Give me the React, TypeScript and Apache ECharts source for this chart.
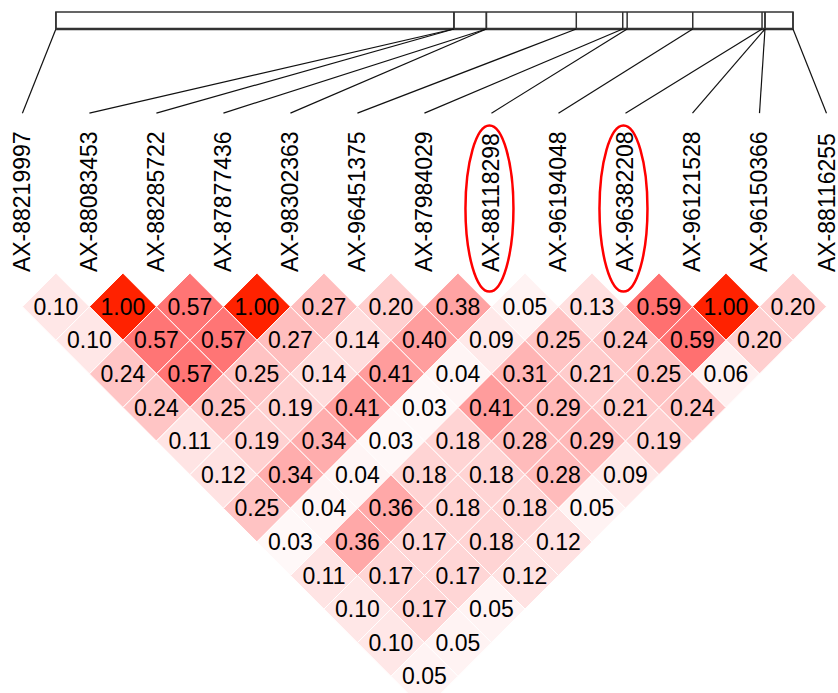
import React, { useEffect, useRef } from "react";
import * as echarts from "echarts";

const snpNames = [
  "AX-88219997", "AX-88083453", "AX-88285722", "AX-87877436", "AX-98302363",
  "AX-96451375", "AX-87984029", "AX-88118298", "AX-96194048", "AX-96382208",
  "AX-96121528", "AX-96150366", "AX-88116255",
];

// relative physical map positions (0 = first SNP, 1 = last SNP)
const mapPositions = [0, 0.54, 0.54, 0.584, 0.584, 0.706, 0.769, 0.775, 0.864, 0.958, 0.962, 0.962, 1.0];

const highlightedSnps = ["AX-88118298", "AX-96382208"];

// LD values, grouped by distance between SNPs (1 = adjacent pairs)
const ldByDistance: number[][] = [
  [0.10, 1.00, 0.57, 1.00, 0.27, 0.20, 0.38, 0.05, 0.13, 0.59, 1.00, 0.20],
  [0.10, 0.57, 0.57, 0.27, 0.14, 0.40, 0.09, 0.25, 0.24, 0.59, 0.20],
  [0.24, 0.57, 0.25, 0.14, 0.41, 0.04, 0.31, 0.21, 0.25, 0.06],
  [0.24, 0.25, 0.19, 0.41, 0.03, 0.41, 0.29, 0.21, 0.24],
  [0.11, 0.19, 0.34, 0.03, 0.18, 0.28, 0.29, 0.19],
  [0.12, 0.34, 0.04, 0.18, 0.18, 0.28, 0.09],
  [0.25, 0.04, 0.36, 0.18, 0.18, 0.05],
  [0.03, 0.36, 0.17, 0.18, 0.12],
  [0.11, 0.17, 0.17, 0.12],
  [0.10, 0.17, 0.05],
  [0.10, 0.05],
  [0.05],
];

const colorStops: [number, number[]][] = [
  [0, [255, 255, 255]],
  [0.6, [255, 110, 110]],
  [1, [255, 34, 0]],
];

function ldColor(v: number): string {
  for (let k = 1; k < colorStops.length; k++) {
    const [v1, c1] = colorStops[k];
    const [v0, c0] = colorStops[k - 1];
    if (v <= v1) {
      const t = (v - v0) / (v1 - v0);
      const c = c0.map((a, idx) => Math.round(a + (c1[idx] - a) * t));
      return `rgb(${c[0]},${c[1]},${c[2]})`;
    }
  }
  return "rgb(255,34,0)";
}

const FONT = '"Liberation Sans", Arial, sans-serif';

export default function App() {
  const ref = useRef<HTMLDivElement>(null);
  useEffect(() => {
    if (!ref.current) return;
    const chart = echarts.init(ref.current, undefined, { renderer: "svg" });
    const n = snpNames.length;
    const cellData: number[][] = [];
    ldByDistance.forEach((row, di) => {
      const d = di + 1;
      row.forEach((v, k) => {
        cellData.push([k + d / 2, d, v]);
      });
    });
    const pMin = Math.min(...mapPositions);
    const pMax = Math.max(...mapPositions);
    const BAR_TOP = -7.77;
    const BAR_BOTTOM = -7.265;
    const LINE_END = -4.76;
    const ELLIPSE_Y = -1.92;

    chart.setOption({
      animation: false,
      grid: { left: 22.4, top: 273.1, width: 806, height: 403.2 },
      xAxis: {
        type: "value",
        min: 0,
        max: n - 1,
        interval: 1,
        position: "top",
        axisLine: { show: false },
        axisTick: { show: false },
        splitLine: { show: false },
        axisLabel: {
          rotate: 90,
          margin: 1,
          fontSize: 23,
          fontFamily: FONT,
          color: "#000",
          formatter: (val: number) => snpNames[Math.round(val)] ?? "",
        },
      },
      yAxis: {
        type: "value",
        min: 0,
        max: n - 1,
        inverse: true,
        show: false,
      },
      series: [
        {
          type: "custom",
          clip: false,
          data: cellData,
          renderItem: (params: any, api: any) => {
            const cx = api.value(0);
            const r = api.value(1);
            const v = api.value(2);
            const pts = [
              api.coord([cx, r - 1]),
              api.coord([cx + 0.5, r]),
              api.coord([cx, r + 1]),
              api.coord([cx - 0.5, r]),
            ];
            const c = api.coord([cx, r]);
            return {
              type: "group",
              children: [
                {
                  type: "polygon",
                  shape: { points: pts },
                  style: { fill: ldColor(v), stroke: "#ffffff", lineWidth: 1 },
                },
                {
                  type: "text",
                  style: {
                    text: v.toFixed(2),
                    x: c[0],
                    y: c[1],
                    align: "center",
                    verticalAlign: "middle",
                    fontSize: 23,
                    fontFamily: FONT,
                    fill: "#000",
                  },
                },
              ],
            };
          },
        },
        {
          type: "custom",
          clip: false,
          data: snpNames.map((name, i) => [i, mapPositions[i]]),
          renderItem: (params: any, api: any) => {
            const i = api.value(0);
            const p = api.value(1);
            const mx = 0.5 + (n - 2) * (p - pMin) / (pMax - pMin);
            const top = api.coord([mx, BAR_TOP]);
            const bot = api.coord([mx, BAR_BOTTOM]);
            const end = api.coord([i, LINE_END]);
            const children: any[] = [
              {
                type: "line",
                shape: { x1: top[0], y1: top[1], x2: bot[0], y2: bot[1] },
                style: { stroke: "#333", lineWidth: 1.5 },
              },
              {
                type: "line",
                shape: { x1: bot[0], y1: bot[1], x2: end[0], y2: end[1] },
                style: { stroke: "#111", lineWidth: 1.2 },
              },
            ];
            if (i === 0) {
              const a = api.coord([0.5, BAR_TOP]);
              const b = api.coord([n - 1.5, BAR_BOTTOM]);
              children.push({
                type: "rect",
                shape: { x: a[0], y: a[1], width: b[0] - a[0], height: b[1] - a[1] },
                style: { fill: "none", stroke: "#333", lineWidth: 1.5 },
              });
              children.push({
                type: "line",
                shape: { x1: a[0], y1: b[1], x2: b[0], y2: b[1] },
                style: { stroke: "#333", lineWidth: 2.5 },
              });
            }
            if (highlightedSnps.includes(snpNames[i])) {
              const e = api.coord([i, ELLIPSE_Y]);
              children.push({
                type: "ellipse",
                shape: { cx: e[0] - 2, cy: e[1], rx: 24, ry: 83 },
                style: { fill: "none", stroke: "#ff0000", lineWidth: 2.5 },
                z2: 10,
              });
            }
            return { type: "group", children };
          },
        },
      ],
    });
    return () => chart.dispose();
  }, []);
  return (
    <div
      ref={ref}
      style={{ position: "fixed", left: 0, top: 0, width: 838, height: 693, background: "#fff" }}
    />
  );
}
